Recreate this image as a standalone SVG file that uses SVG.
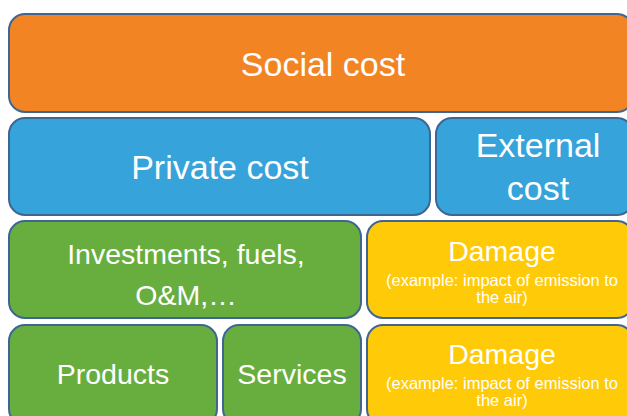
<svg xmlns="http://www.w3.org/2000/svg" width="627" height="416" viewBox="0 0 627 416">
<style>
.b{stroke:#3F6593;stroke-width:2}
.o{fill:#F28423}.bl{fill:#36A3DA}.g{fill:#68AE3F}.y{fill:#FFCA08}
text{font-family:"Liberation Sans",Arial,sans-serif;fill:#fff;text-anchor:middle}
.big{font-size:34px}.mid{font-size:28.5px}.sm{font-size:16.5px}
</style>
<rect width="627" height="416" fill="#fff"/>
<g id="social"><rect class="b o" x="9" y="14" width="624" height="98" rx="16"/><text class="big" x="323" y="76">Social cost</text></g>
<g id="private"><rect class="b bl" x="9" y="118" width="421" height="97" rx="16"/><text class="big" x="220" y="179">Private cost</text></g>
<g id="external"><rect class="b bl" x="436" y="118" width="197" height="97" rx="16"/><text class="big" x="538" y="157">External</text><text class="big" x="538" y="200">cost</text></g>
<g id="investments"><rect class="b g" x="9" y="221" width="352" height="97" rx="16"/><text class="mid" x="186" y="264">Investments, fuels,</text><text class="mid" x="186" y="305">O&amp;M,…</text></g>
<g id="damage1"><rect class="b y" x="367" y="221" width="266" height="97" rx="16"/><text class="mid" x="502" y="261">Damage</text><text class="sm" x="502" y="286">(example: impact of emission to</text><text class="sm" x="502" y="303">the air)</text></g>
<g id="products"><rect class="b g" x="9" y="325" width="208" height="100" rx="16"/><text class="mid" x="113" y="384">Products</text></g>
<g id="services"><rect class="b g" x="223" y="325" width="138" height="100" rx="16"/><text class="mid" x="292" y="384">Services</text></g>
<g id="damage2"><rect class="b y" x="367" y="325" width="266" height="100" rx="16"/><text class="mid" x="502" y="364">Damage</text><text class="sm" x="502" y="389">(example: impact of emission to</text><text class="sm" x="502" y="406">the air)</text></g>
<g id="connectors"/>
</svg>
